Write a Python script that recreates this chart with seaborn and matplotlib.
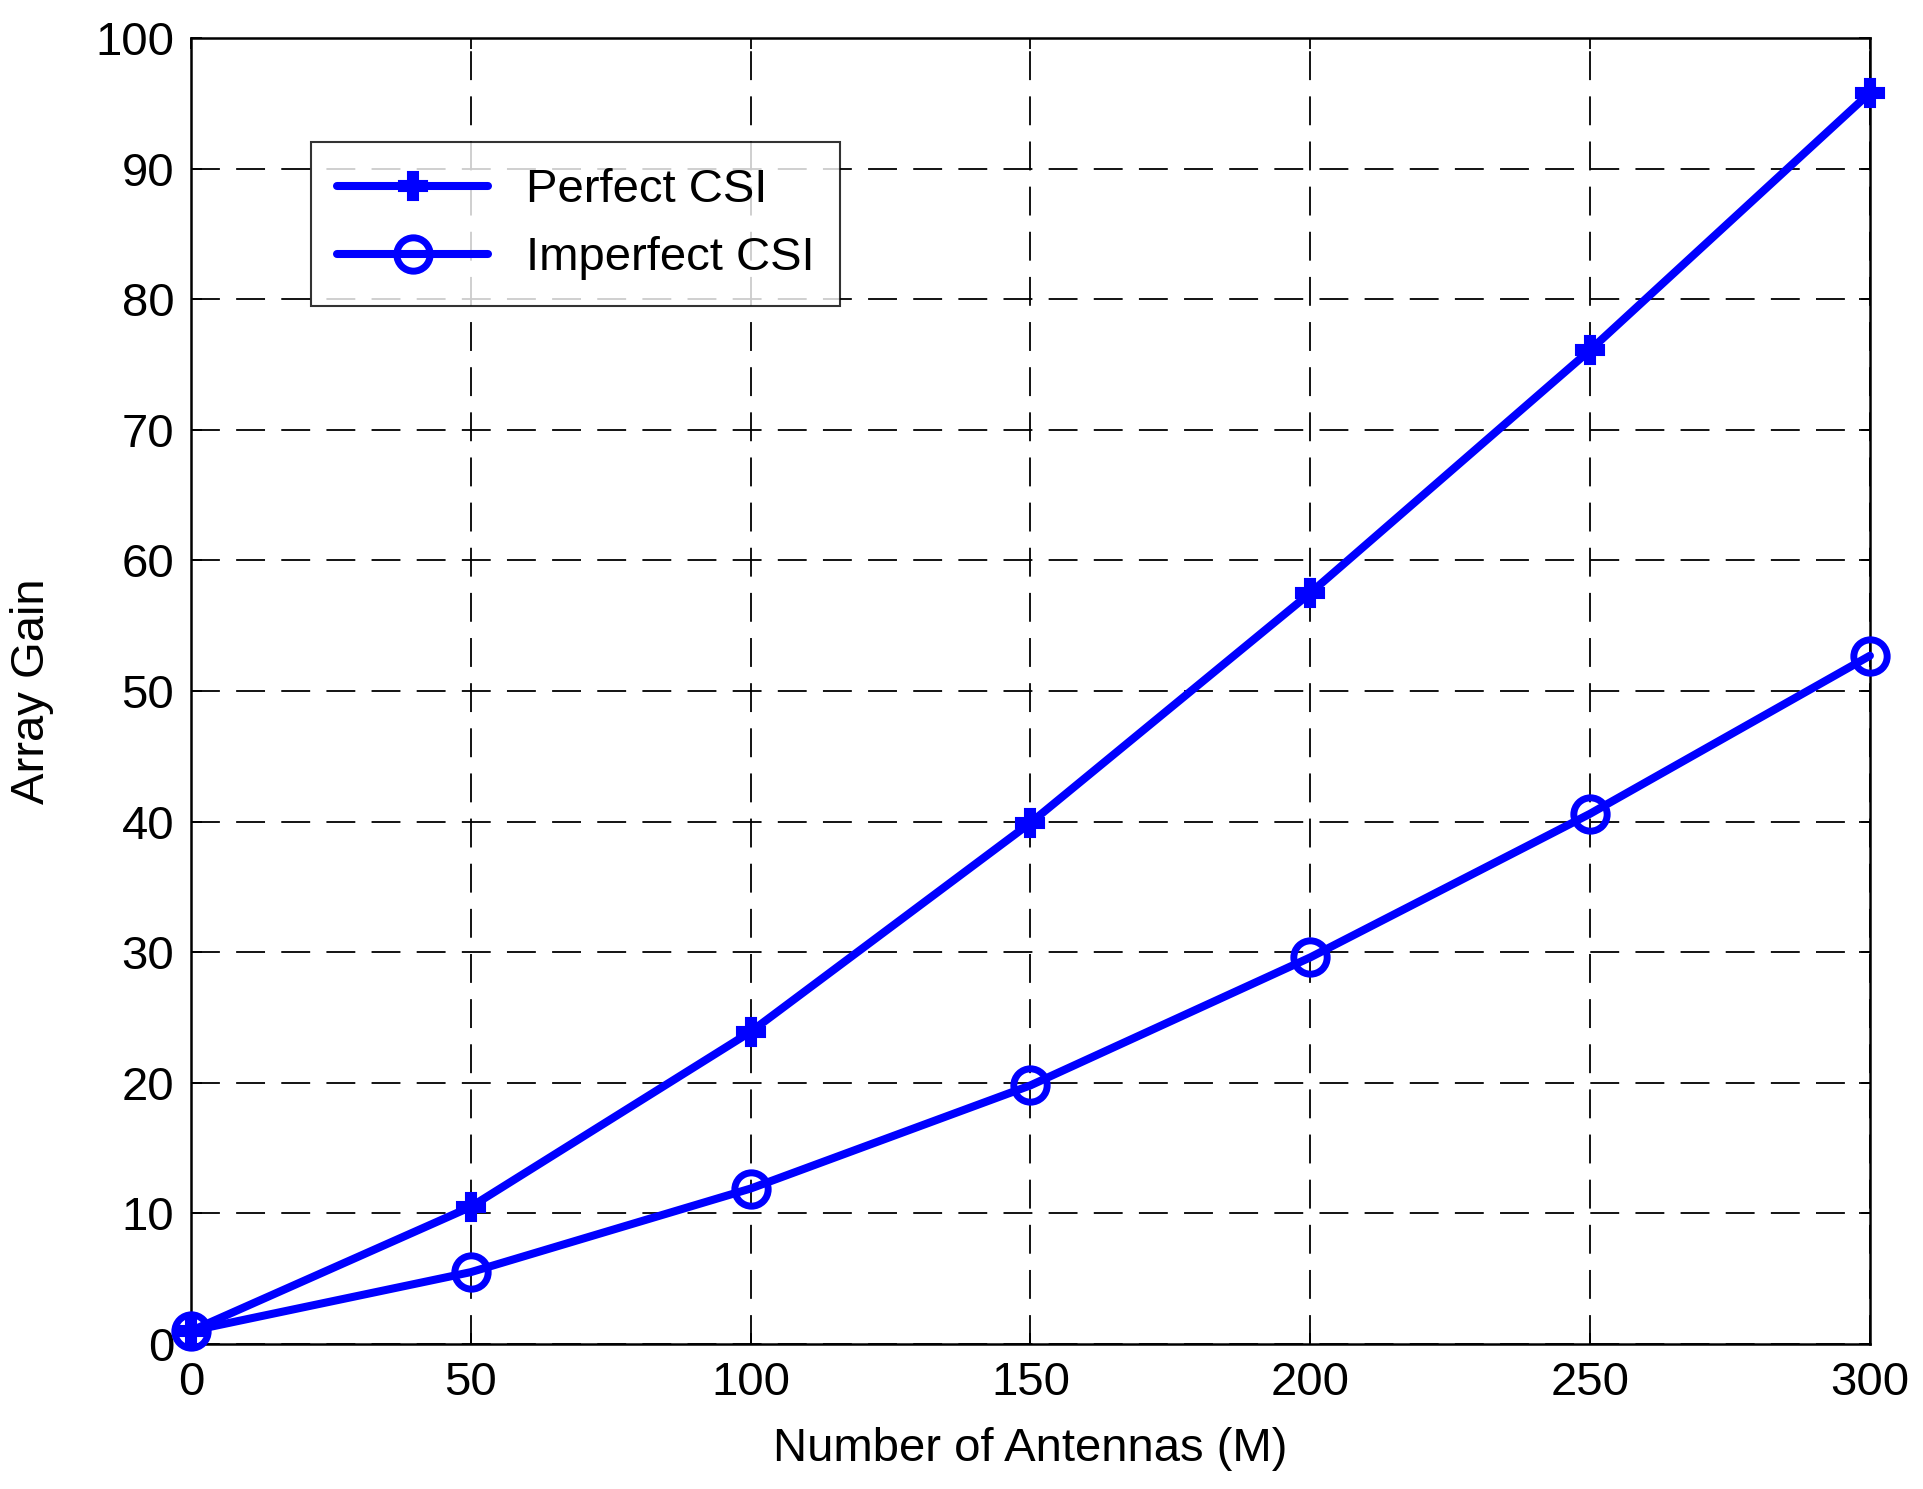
import matplotlib
matplotlib.use("Agg")
import matplotlib.pyplot as plt
import pandas as pd
import seaborn as sns

# Array gain vs number of antennas
antennas = [0, 50, 100, 150, 200, 250, 300]
perfect_csi = [1.0, 10.5, 23.9, 39.9, 57.5, 76.1, 95.8]
imperfect_csi = [1.0, 5.5, 11.9, 19.8, 29.6, 40.6, 52.7]

df = pd.DataFrame({"M": antennas, "Perfect CSI": perfect_csi, "Imperfect CSI": imperfect_csi})

sns.set_style("ticks")
plt.rcParams["font.family"] = ["Liberation Sans", "DejaVu Sans"]
plt.rcParams["text.color"] = "black"
plt.rcParams["axes.labelcolor"] = "black"
plt.rcParams["xtick.color"] = "black"
plt.rcParams["ytick.color"] = "black"

fig = plt.figure(figsize=(19.23, 14.89), dpi=100)
ax = fig.add_axes([0.0993, 0.0974, 0.8731, 0.8771])

blue = "#0000ff"
sns.lineplot(data=df, x="M", y="Perfect CSI", ax=ax, color=blue, linewidth=5.8,
             marker="P", markersize=20, markerfacecolor=blue, markeredgecolor=blue,
             markeredgewidth=1.5, label="Perfect CSI", clip_on=False, zorder=5)
sns.lineplot(data=df, x="M", y="Imperfect CSI", ax=ax, color=blue, linewidth=5.8,
             marker="o", markersize=24, markerfacecolor="none", markeredgecolor=blue,
             markeredgewidth=5, label="Imperfect CSI", clip_on=False, zorder=5)

ax.set_xlim(0, 300)
ax.set_ylim(0, 100)
ax.set_xticks(range(0, 301, 50))
ax.set_yticks(range(0, 101, 10))
ax.grid(True, color="black", linewidth=1.3, linestyle=(0, (16, 9)))
ax.set_axisbelow(True)
ax.tick_params(direction="in", top=True, right=True, length=8, width=1.3,
               labelsize=34, pad=12, colors="black")
for s in ax.spines.values():
    s.set_linewidth(1.8)
    s.set_color("black")

ax.set_xlabel("Number of Antennas (M)", fontsize=34, labelpad=16)
ax.set_ylabel("Array Gain", fontsize=34, labelpad=30)

leg = ax.legend(loc="upper left", bbox_to_anchor=(0.0715, 0.920), borderaxespad=0,
                fontsize=34, frameon=True, fancybox=False, handlelength=3.2,
                borderpad=0.55, labelspacing=0.5, edgecolor="black")
leg.get_frame().set_linewidth(1.5)
for t in leg.get_texts():
    t.set_color("black")

fig.savefig("out.png", dpi=100)
